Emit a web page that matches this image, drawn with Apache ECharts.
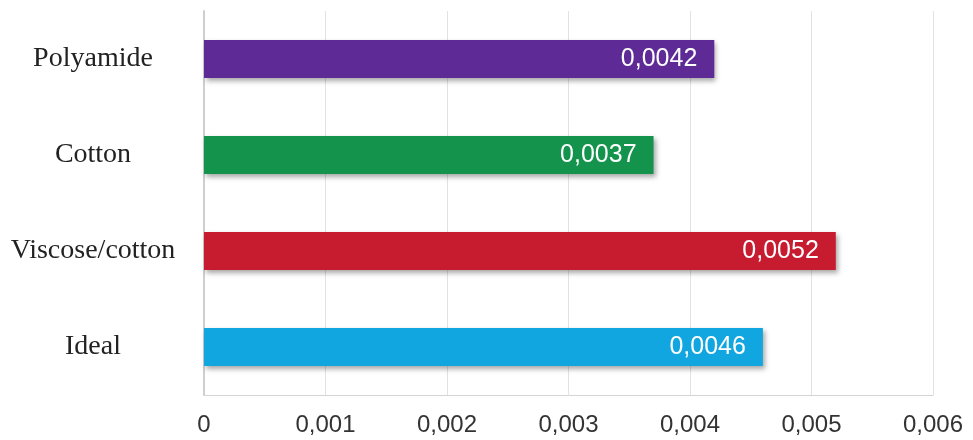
<!DOCTYPE html>
<html>
<head>
<meta charset="utf-8">
<script src="https://cdn.jsdelivr.net/npm/echarts@6/dist/echarts.min.js"></script>
<style>
  html, body { margin: 0; padding: 0; background: #fff; }
  #chart { width: 973px; height: 440px; }
</style>
</head>
<body>
<div id="chart"></div>
<script>
// categories top to bottom as in the picture
const categories = ["Polyamide", "Cotton", "Viscose/cotton", "Ideal"];
const values = [0.0042, 0.0037, 0.0052, 0.0046];
const barColors = ["#5d2a96", "#13934b", "#c71b30", "#12a6e0"];
const xTicks = [0, 0.001, 0.002, 0.003, 0.004, 0.005, 0.006];

const toComma = v => (v === 0 ? "0" : String(v).replace(".", ","));

const chart = echarts.init(document.getElementById("chart"));

chart.setOption({
  animation: false,
  grid: { left: 204, right: 40, top: 11, bottom: 45 },
  xAxis: {
    type: "value",
    min: xTicks[0],
    max: xTicks[xTicks.length - 1],
    interval: 0.001,
    axisLine: { show: true, lineStyle: { color: "#d4d4d4", width: 1 } },
    axisTick: { show: false },
    splitLine: { show: true, lineStyle: { color: "#e2e2e2", width: 1 } },
    axisLabel: {
      formatter: toComma,
      color: "#333",
      fontFamily: "Liberation Sans",
      fontSize: 24,
      margin: 18
    }
  },
  yAxis: {
    type: "category",
    data: categories.slice().reverse(),
    axisLine: { show: true, lineStyle: { color: "#cfcfcf", width: 2 } },
    axisTick: { show: false },
    axisLabel: {
      color: "#222",
      fontFamily: "Liberation Serif",
      fontSize: 28,
      align: "center",
      margin: 111
    }
  },
  series: [{
    type: "bar",
    barWidth: 38,
    data: values.slice().reverse().map((v, i) => ({
      value: v,
      itemStyle: { color: barColors.slice().reverse()[i] }
    })),
    itemStyle: {
      shadowBlur: 5,
      shadowOffsetX: 2,
      shadowOffsetY: 3,
      shadowColor: "rgba(0,0,0,0.35)"
    },
    label: {
      show: true,
      position: "insideRight",
      distance: 17,
      formatter: p => toComma(p.value),
      color: "#fff",
      fontFamily: "Liberation Sans",
      fontSize: 25
    }
  }]
});
</script>
</body>
</html>
